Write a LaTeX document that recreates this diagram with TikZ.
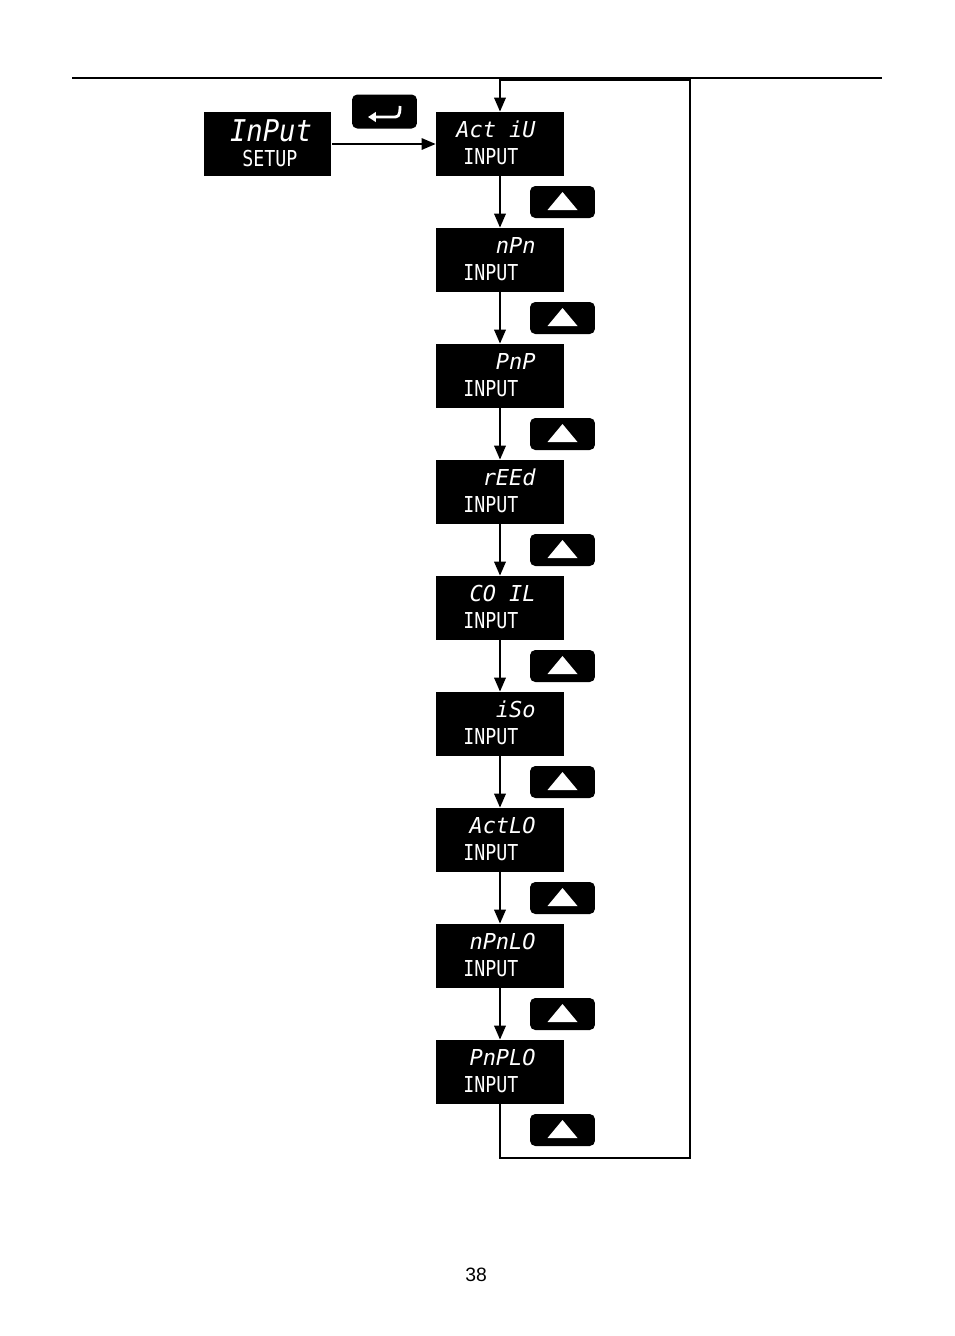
\documentclass[tikz,border=0pt]{standalone}
\usepackage{fontspec}
\usepackage{graphicx}
\setmainfont{Liberation Sans}
\newfontfamily\lcdfont{DejaVu Sans Mono}
\usetikzlibrary{arrows.meta}
\newcommand{\subtxt}[1]{\scalebox{1}[1.2]{#1}}

\begin{document}
\begin{tikzpicture}[x=0.02cm,y=-0.02cm,
    display/.style={fill=black,minimum width=2.56cm,minimum height=1.28cm,inner sep=0pt},
    upkey/.style={fill=black,rounded corners=3pt,minimum width=1.3cm,minimum height=0.64cm,inner sep=0pt},
    flow/.style={line width=1.3pt,-{Triangle[length=8pt,width=6.5pt]}},
    mainline/.style={text=white,inner sep=0pt,font=\lcdfont\itshape\fontsize{12.5}{13}\selectfont},
    subline/.style={text=white,inner sep=0pt,font=\lcdfont\fontsize{10.4}{11}\selectfont}]
      \useasboundingbox (0,0) rectangle (954,1336) ;
      \draw[line width=0.6pt] (72,78) -- (882,78) ;
      % setup display and enter key
      \node[display] (setup) at (267.5,144) {} ;
      \node[mainline,font=\lcdfont\itshape\fontsize{15.5}{16}\selectfont] (setupT) at (271,131) {\scalebox{1}[1.1]{InPut}} ;
      \node[subline] (setupB) at (270,159) {\subtxt{SETUP}} ;
      \node[upkey,minimum height=0.68cm] (enter) at (384.5,111.5) {} ;
      \draw[white,line width=1.6pt,-{Triangle[length=4.5pt,width=5.5pt]}] (400,106) .. controls (400,117) and (398,117) .. (393,117) -- (368,117) ;
      % input displays with up keys
      \foreach \t [count=\i] in {Act iU,nPn,PnP,rEEd,CO IL,iSo,ActLO,nPnLO,PnPLO} {
        \node[display] (d\i) at (500,{144+116*(\i-1)}) {} ;
        \node[mainline,anchor=east] (t\i) at (536,{129.5+116*(\i-1)}) {\t} ;
        \node[subline,anchor=west] (b\i) at (463,{157+116*(\i-1)}) {\subtxt{INPUT}} ;
        \node[upkey] (u\i) at (562.5,{202+116*(\i-1)}) {} ;
        \fill[white] (547.5,{210+116*(\i-1)}) -- (577.5,{210+116*(\i-1)}) -- (562.5,{192+116*(\i-1)}) -- cycle ;
      }
      \draw[flow,line width=1.1pt] (setup) -- (d1) ;
      \foreach \i/\j in {1/2,2/3,3/4,4/5,5/6,6/7,7/8,8/9}
        \draw[flow] (d\i) -- (d\j) ;
      % return loop
      \coordinate (loopB) at (690,1158) ;
      \coordinate (loopT) at (690,80) ;
      \draw[flow] (d9.south) |- (loopB) -- (loopT) -| (d1.north) ;
      \node[font=\fontsize{11}{13}\selectfont] (page) at (476,1275) {38} ;
    \end{tikzpicture}
\end{document}
